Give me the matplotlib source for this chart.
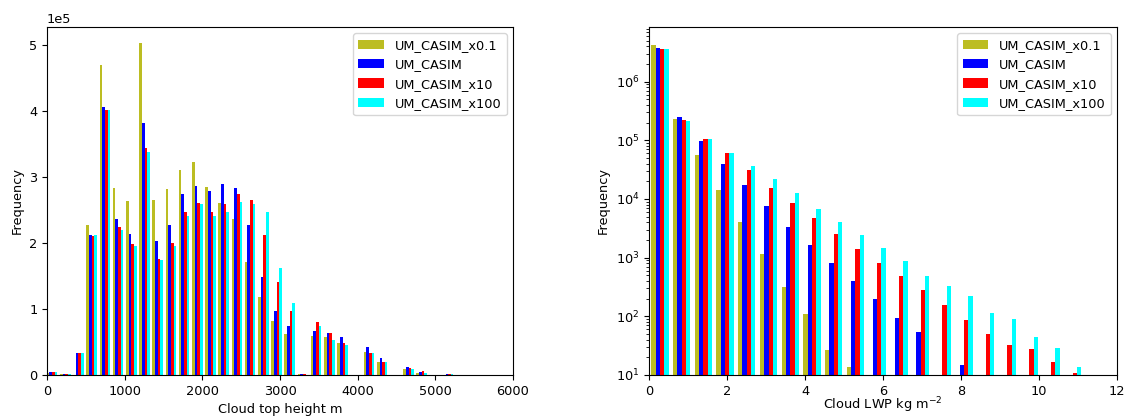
import numpy as np
import matplotlib
matplotlib.use("Agg")
import matplotlib.pyplot as plt

plt.rcParams['font.size'] = 9.3

labels = ["UM_CASIM_x0.1", "UM_CASIM", "UM_CASIM_x10", "UM_CASIM_x100"]
colours = ["#bcbd22", "#0000ff", "#ff0000", "#00ffff"]

# cloud top height histogram (32 bins)
cth_edges = np.linspace(-20, 5420, 33)
cth_x01 = [3000, 1000, 0, 227000, 470000, 284000, 264000, 504000, 266000, 282000,
           311000, 323000, 285000, 261000, 237000, 171000, 118000, 82000, 62000, 1000,
           59000, 57000, 49000, 0, 35000, 20000, 0, 9000, 3000, 0, 500, 0]
cth_ctl = [4000, 1500, 33000, 212000, 406000, 237000, 214000, 383000, 203000, 227000,
           274000, 287000, 279000, 290000, 284000, 227000, 148000, 97000, 74000, 1000,
           67000, 63000, 58000, 0, 43000, 26000, 0, 12000, 5000, 0, 2000, 0]
cth_x10 = [4000, 1500, 33000, 211000, 402000, 224000, 199000, 344000, 176000, 201000,
           247000, 261000, 247000, 259000, 274000, 266000, 213000, 141000, 97000, 1000,
           81000, 64000, 48000, 0, 34000, 20000, 0, 10000, 6000, 0, 2000, 0]
cth_x100 = [5000, 1000, 33000, 212000, 402000, 220000, 196000, 339000, 175000, 196000,
            241000, 259000, 241000, 248000, 262000, 260000, 247000, 162000, 109000, 500,
            74000, 53000, 45000, 0, 33000, 20000, 0, 9000, 3000, 0, 1000, 500]

# liquid water path histogram (20 bins)
lwp_edges = np.linspace(0, 11.14, 21)
lwp_x01 = [4.2e6, 2.28e5, 5.7e4, 1.44e4, 4.1e3, 1.16e3, 315, 109, 26.7, 13.9,
           0, 0, 0, 0, 0, 0, 0, 0, 0, 0]
lwp_ctl = [3.79e6, 2.5e5, 9.75e4, 3.94e4, 1.7e4, 7.45e3, 3.34e3, 1.67e3, 800, 394,
           194, 92, 53, 0, 14.8, 0, 0, 0, 0, 0]
lwp_x10 = [3.6e6, 2.23e5, 1.07e5, 6.0e4, 3.16e4, 1.55e4, 8.6e3, 4.64e3, 2.54e3, 1.41e3,
           800, 492, 284, 157, 85, 49.5, 32.6, 27.5, 16.9, 11]
lwp_x100 = [3.6e6, 2.11e5, 1.07e5, 6.1e4, 3.64e4, 2.15e4, 1.27e4, 6.8e3, 4.07e3, 2.41e3,
            1.43e3, 860, 495, 328, 218, 113, 89.5, 44, 29.3, 13.9]


def centres(edges):
    return 0.5 * (edges[:-1] + edges[1:])


fig = plt.figure(figsize=(11.28, 4.16), dpi=100)
ax1 = fig.add_axes([0.0417, 0.0986, 0.4131, 0.8365])
ax2 = fig.add_axes([0.5754, 0.0986, 0.4149, 0.8365])

# Cloud top height
c1 = centres(cth_edges)
ax1.hist([c1] * 4, bins=cth_edges,
         weights=[cth_x01, cth_ctl, cth_x10, cth_x100],
         color=colours, label=labels)
ax1.set_xlim(0, 6000)
ax1.set_ylim(0, 5.28e5)
ax1.ticklabel_format(axis='y', style='sci', scilimits=(0, 0))
ax1.set_xlabel("Cloud top height m")
ax1.set_ylabel("Frequency")
ax1.legend(loc='upper right')

# Cloud LWP
c2 = centres(lwp_edges)
ax2.hist([c2] * 4, bins=lwp_edges,
         weights=[lwp_x01, lwp_ctl, lwp_x10, lwp_x100],
         color=colours, label=labels, log=True)
ax2.set_xlim(0, 12)
ax2.set_ylim(10, 8.5e6)
ax2.set_xlabel("Cloud LWP kg m$^{-2}$", labelpad=-1.5)
ax2.set_ylabel("Frequency")
ax2.legend(loc='upper right')

fig.savefig("out.png", dpi=100)
